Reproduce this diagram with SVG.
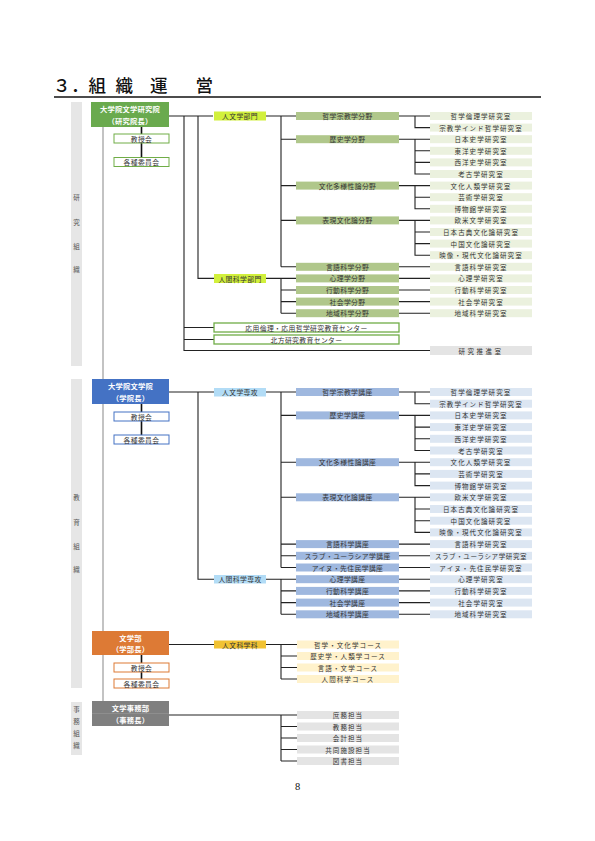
<svg xmlns="http://www.w3.org/2000/svg" width="595" height="841" viewBox="0 0 595 841">
<style>
.ln{stroke:#222;stroke-width:1.1;fill:none}
.lk{stroke:#111;stroke-width:1.6;fill:none}
.sp{stroke:#b4b4b4;stroke-width:1.6;fill:none}
.t{font-family:"Noto Sans CJK JP","Noto Sans",sans-serif;font-size:6.5px;fill:#333;text-anchor:middle;dominant-baseline:central;letter-spacing:1.1px}
.m{font-size:6.8px;letter-spacing:0.4px}
.w{font-family:"Noto Sans CJK JP","Noto Sans",sans-serif;font-size:7.3px;font-weight:bold;fill:#fff;text-anchor:middle;dominant-baseline:central;letter-spacing:0.2px}
.side{font-family:"Noto Sans CJK JP",sans-serif;font-size:6.5px;fill:#555;text-anchor:middle;dominant-baseline:central}
.bar{fill:#e6e6e6}
.rg{fill:#ebf1de}.fg{fill:#b0c78b}
.rb{fill:#dce6f2}.fb{fill:#9fb8df}
.cy{fill:#fff2cc}.ga{fill:#e4e4e4}
.bg{fill:#fff;stroke:#70ad47;stroke-width:1}
.bb{fill:#fff;stroke:#4472c4;stroke-width:1}
.bo{fill:#fff;stroke:#dd7a35;stroke-width:1}
.cg{fill:#fff;stroke:#70ad47;stroke-width:1.3}
.title{font-family:"Noto Sans CJK JP",sans-serif;font-size:17.5px;font-weight:500;fill:#111}
</style>

<!-- title -->
<g id="title">
<text class="title" x="53" y="92">３</text>
<text class="title" x="71" y="92">．</text>
<text class="title" x="88.5" y="92">組</text>
<text class="title" x="115.5" y="92">織</text>
<text class="title" x="150" y="92">運</text>
<text class="title" x="195.5" y="92">営</text>
<line x1="54" y1="97" x2="541" y2="97" stroke="#111" stroke-width="1.6"/>
</g>

<!-- side bars -->
<g id="side-research">
<rect class="bar" x="71" y="102" width="11" height="264"/>
<text class="side" x="76.5" y="197">研</text>
<text class="side" x="76.5" y="222">究</text>
<text class="side" x="76.5" y="246">組</text>
<text class="side" x="76.5" y="269">織</text>
</g>
<g id="side-education">
<rect class="bar" x="71" y="379" width="11" height="309"/>
<text class="side" x="76.5" y="497">教</text>
<text class="side" x="76.5" y="522">育</text>
<text class="side" x="76.5" y="546">組</text>
<text class="side" x="76.5" y="569">織</text>
</g>
<g id="side-admin">
<rect class="bar" x="71" y="702" width="11" height="53"/>
<text class="side" x="76.5" y="709">事</text>
<text class="side" x="76.5" y="721">務</text>
<text class="side" x="76.5" y="733">組</text>
<text class="side" x="76.5" y="745">織</text>
</g>

<!-- connectors -->
<g id="connectors">
<path class="sp" d="M103,127 V701"/>
<path class="lk" d="M141.5,127 V157 M141.5,404 V435 M141.5,655 V679"/>
<!-- research -->
<path class="ln" d="M169,116 H213 M266,116 H296 M281,116 V266.8 M281,139.2 H296 M281,185.6 H296 M281,220.4 H296 M281,266.8 H296
M198,116 V278.4 H214 M266,278.4 H296 M281,278.4 V313.2 M281,290 H296 M281,301.6 H296 M281,313.2 H296
M399,116 H430 M415,116 V127.6 H430
M399,139.2 H430 M415,139.2 V174 H430 M415,150.8 H430 M415,162.4 H430
M399,185.6 H430 M415,185.6 V208.8 H430 M415,197.2 H430
M399,220.4 H430 M415,220.4 V255.2 H430 M415,232 H430 M415,243.6 H430
M399,266.8 H430 M399,278.4 H430 M399,290 H430 M399,301.6 H430 M399,313.2 H430
M184,116 V350.5 H430 M184,327.5 H214 M184,339.5 H214"/>
<!-- education -->
<path class="ln" d="M169,392 H214 M266,392 H296 M281,392 V567.5 M281,415.4 H296 M281,462.2 H296 M281,497.3 H296 M281,544.1 H296 M281,555.8 H296 M281,567.5 H296
M198,392 V579.2 H214 M266,579.2 H296 M281,579.2 V614.3 M281,590.9 H296 M281,602.6 H296 M281,614.3 H296
M399,392 H430 M415,392 V403.7 H430
M399,415.4 H430 M415,415.4 V450.5 H430 M415,427.1 H430 M415,438.8 H430
M399,462.2 H430 M415,462.2 V485.6 H430 M415,473.9 H430
M399,497.3 H430 M415,497.3 V532.4 H430 M415,509 H430 M415,520.7 H430
M399,544.1 H430 M399,555.8 H430 M399,567.5 H430 M399,579.2 H430 M399,590.9 H430 M399,602.6 H430 M399,614.3 H430"/>
<!-- undergraduate -->
<path class="ln" d="M169,644.5 H214 M266,644.5 H297 M281,644.5 V679 M281,656 H297 M281,667.5 H297 M281,679 H297"/>
<!-- admin -->
<path class="ln" d="M169,715 H297 M281,715 V761 M281,726.5 H297 M281,738 H297 M281,749.5 H297 M281,761 H297"/>
</g>

<!-- ===== research organisation ===== -->
<g id="n-research-head"><rect x="91" y="102" width="78" height="25" fill="#6aaa4e"/><text class="w" x="130" y="108.5">大学院文学研究院</text><text class="w" x="130" y="120.5">（研究院長）</text></g>
<g id="n-r-kyoju"><rect class="bg" x="114" y="134" width="55" height="9"/><text class="t m" x="141.5" y="138.5">教授会</text></g>
<g id="n-r-iinkai"><rect class="bg" x="114" y="157.5" width="55" height="9"/><text class="t m" x="141.5" y="162">各種委員会</text></g>

<g id="n-r-jinbun"><rect x="214" y="111.5" width="52" height="9" fill="#d2f03c"/><text class="t m" x="240" y="116">人文学部門</text></g>
<g id="n-r-ningen"><rect x="214" y="274" width="52" height="9" fill="#d2f03c"/><text class="t m" x="240" y="278.5">人間科学部門</text></g>

<g id="n-r-f1"><rect class="fg" x="296" y="112" width="103" height="8"/><text class="t m" x="347.5" y="116">哲学宗教学分野</text></g>
<g id="n-r-f2"><rect class="fg" x="296" y="135.2" width="103" height="8"/><text class="t m" x="347.5" y="139.2">歴史学分野</text></g>
<g id="n-r-f3"><rect class="fg" x="296" y="181.6" width="103" height="8"/><text class="t m" x="347.5" y="185.6">文化多様性論分野</text></g>
<g id="n-r-f4"><rect class="fg" x="296" y="216.4" width="103" height="8"/><text class="t m" x="347.5" y="220.4">表現文化論分野</text></g>
<g id="n-r-f5"><rect class="fg" x="296" y="262.8" width="103" height="8"/><text class="t m" x="347.5" y="266.8">言語科学分野</text></g>
<g id="n-r-f6"><rect class="fg" x="296" y="274.4" width="103" height="8"/><text class="t m" x="347.5" y="278.4">心理学分野</text></g>
<g id="n-r-f7"><rect class="fg" x="296" y="286" width="103" height="8"/><text class="t m" x="347.5" y="290">行動科学分野</text></g>
<g id="n-r-f8"><rect class="fg" x="296" y="297.6" width="103" height="8"/><text class="t m" x="347.5" y="301.6">社会学分野</text></g>
<g id="n-r-f9"><rect class="fg" x="296" y="309.2" width="103" height="8"/><text class="t m" x="347.5" y="313.2">地域科学分野</text></g>

<g id="n-r-r0"><rect class="rg" x="430" y="112" width="102" height="8"/><text class="t" x="481" y="116">哲学倫理学研究室</text></g>
<g id="n-r-r1"><rect class="rg" x="430" y="123.6" width="102" height="8"/><text class="t" x="481" y="127.6">宗教学インド哲学研究室</text></g>
<g id="n-r-r2"><rect class="rg" x="430" y="135.2" width="102" height="8"/><text class="t" x="481" y="139.2">日本史学研究室</text></g>
<g id="n-r-r3"><rect class="rg" x="430" y="146.8" width="102" height="8"/><text class="t" x="481" y="150.8">東洋史学研究室</text></g>
<g id="n-r-r4"><rect class="rg" x="430" y="158.4" width="102" height="8"/><text class="t" x="481" y="162.4">西洋史学研究室</text></g>
<g id="n-r-r5"><rect class="rg" x="430" y="170" width="102" height="8"/><text class="t" x="481" y="174">考古学研究室</text></g>
<g id="n-r-r6"><rect class="rg" x="430" y="181.6" width="102" height="8"/><text class="t" x="481" y="185.6">文化人類学研究室</text></g>
<g id="n-r-r7"><rect class="rg" x="430" y="193.2" width="102" height="8"/><text class="t" x="481" y="197.2">芸術学研究室</text></g>
<g id="n-r-r8"><rect class="rg" x="430" y="204.8" width="102" height="8"/><text class="t" x="481" y="208.8">博物館学研究室</text></g>
<g id="n-r-r9"><rect class="rg" x="430" y="216.4" width="102" height="8"/><text class="t" x="481" y="220.4">欧米文学研究室</text></g>
<g id="n-r-r10"><rect class="rg" x="430" y="228" width="102" height="8"/><text class="t" x="481" y="232">日本古典文化論研究室</text></g>
<g id="n-r-r11"><rect class="rg" x="430" y="239.6" width="102" height="8"/><text class="t" x="481" y="243.6">中国文化論研究室</text></g>
<g id="n-r-r12"><rect class="rg" x="430" y="251.2" width="102" height="8"/><text class="t" x="481" y="255.2">映像・現代文化論研究室</text></g>
<g id="n-r-r13"><rect class="rg" x="430" y="262.8" width="102" height="8"/><text class="t" x="481" y="266.8">言語科学研究室</text></g>
<g id="n-r-r14"><rect class="rg" x="430" y="274.4" width="102" height="8"/><text class="t" x="481" y="278.4">心理学研究室</text></g>
<g id="n-r-r15"><rect class="rg" x="430" y="286" width="102" height="8"/><text class="t" x="481" y="290">行動科学研究室</text></g>
<g id="n-r-r16"><rect class="rg" x="430" y="297.6" width="102" height="8"/><text class="t" x="481" y="301.6">社会学研究室</text></g>
<g id="n-r-r17"><rect class="rg" x="430" y="309.2" width="102" height="8"/><text class="t" x="481" y="313.2">地域科学研究室</text></g>

<g id="n-r-center1"><rect class="cg" x="214" y="323" width="185" height="9"/><text class="t m" x="306.5" y="327.5">応用倫理・応用哲学研究教育センター</text></g>
<g id="n-r-center2"><rect class="cg" x="214" y="335" width="185" height="9"/><text class="t m" x="306.5" y="339.5">北方研究教育センター</text></g>
<g id="n-r-suishin"><rect class="ga" x="430" y="346" width="102" height="9"/><text class="t" x="481" y="350.5" style="letter-spacing:2.5px">研究推進室</text></g>

<!-- ===== education organisation ===== -->
<g id="n-education-head"><rect x="92" y="379" width="77" height="25" fill="#4472c4"/><text class="w" x="130.5" y="385.5">大学院文学院</text><text class="w" x="130.5" y="397.5">（学院長）</text></g>
<g id="n-e-kyoju"><rect class="bb" x="114" y="412" width="55" height="9"/><text class="t m" x="141.5" y="416.5">教授会</text></g>
<g id="n-e-iinkai"><rect class="bb" x="114" y="435" width="55" height="9"/><text class="t m" x="141.5" y="439.5">各種委員会</text></g>

<g id="n-e-jinbun"><rect x="214" y="388" width="52" height="8.5" fill="#b2dcf6"/><text class="t m" x="240" y="392.2">人文学専攻</text></g>
<g id="n-e-ningen"><rect x="214" y="575" width="52" height="8.5" fill="#b2dcf6"/><text class="t m" x="240" y="579.2">人間科学専攻</text></g>

<g id="n-e-k1"><rect class="fb" x="296" y="388" width="103" height="8"/><text class="t m" x="347.5" y="392">哲学宗教学講座</text></g>
<g id="n-e-k2"><rect class="fb" x="296" y="411.4" width="103" height="8"/><text class="t m" x="347.5" y="415.4">歴史学講座</text></g>
<g id="n-e-k3"><rect class="fb" x="296" y="458.2" width="103" height="8"/><text class="t m" x="347.5" y="462.2">文化多様性論講座</text></g>
<g id="n-e-k4"><rect class="fb" x="296" y="493.3" width="103" height="8"/><text class="t m" x="347.5" y="497.3">表現文化論講座</text></g>
<g id="n-e-k5"><rect class="fb" x="296" y="540.1" width="103" height="8"/><text class="t m" x="347.5" y="544.1">言語科学講座</text></g>
<g id="n-e-k6"><rect class="fb" x="296" y="551.8" width="103" height="8"/><text class="t m" x="347.5" y="555.8">スラブ・ユーラシア学講座</text></g>
<g id="n-e-k7"><rect class="fb" x="296" y="563.5" width="103" height="8"/><text class="t m" x="347.5" y="567.5">アイヌ・先住民学講座</text></g>
<g id="n-e-k8"><rect class="fb" x="296" y="575.2" width="103" height="8"/><text class="t m" x="347.5" y="579.2">心理学講座</text></g>
<g id="n-e-k9"><rect class="fb" x="296" y="586.9" width="103" height="8"/><text class="t m" x="347.5" y="590.9">行動科学講座</text></g>
<g id="n-e-k10"><rect class="fb" x="296" y="598.6" width="103" height="8"/><text class="t m" x="347.5" y="602.6">社会学講座</text></g>
<g id="n-e-k11"><rect class="fb" x="296" y="610.3" width="103" height="8"/><text class="t m" x="347.5" y="614.3">地域科学講座</text></g>

<g id="n-e-r0"><rect class="rb" x="430" y="388" width="102" height="8"/><text class="t" x="481" y="392">哲学倫理学研究室</text></g>
<g id="n-e-r1"><rect class="rb" x="430" y="399.7" width="102" height="8"/><text class="t" x="481" y="403.7">宗教学インド哲学研究室</text></g>
<g id="n-e-r2"><rect class="rb" x="430" y="411.4" width="102" height="8"/><text class="t" x="481" y="415.4">日本史学研究室</text></g>
<g id="n-e-r3"><rect class="rb" x="430" y="423.1" width="102" height="8"/><text class="t" x="481" y="427.1">東洋史学研究室</text></g>
<g id="n-e-r4"><rect class="rb" x="430" y="434.8" width="102" height="8"/><text class="t" x="481" y="438.8">西洋史学研究室</text></g>
<g id="n-e-r5"><rect class="rb" x="430" y="446.5" width="102" height="8"/><text class="t" x="481" y="450.5">考古学研究室</text></g>
<g id="n-e-r6"><rect class="rb" x="430" y="458.2" width="102" height="8"/><text class="t" x="481" y="462.2">文化人類学研究室</text></g>
<g id="n-e-r7"><rect class="rb" x="430" y="469.9" width="102" height="8"/><text class="t" x="481" y="473.9">芸術学研究室</text></g>
<g id="n-e-r8"><rect class="rb" x="430" y="481.6" width="102" height="8"/><text class="t" x="481" y="485.6">博物館学研究室</text></g>
<g id="n-e-r9"><rect class="rb" x="430" y="493.3" width="102" height="8"/><text class="t" x="481" y="497.3">欧米文学研究室</text></g>
<g id="n-e-r10"><rect class="rb" x="430" y="505" width="102" height="8"/><text class="t" x="481" y="509">日本古典文化論研究室</text></g>
<g id="n-e-r11"><rect class="rb" x="430" y="516.7" width="102" height="8"/><text class="t" x="481" y="520.7">中国文化論研究室</text></g>
<g id="n-e-r12"><rect class="rb" x="430" y="528.4" width="102" height="8"/><text class="t" x="481" y="532.4">映像・現代文化論研究室</text></g>
<g id="n-e-r13"><rect class="rb" x="430" y="540.1" width="102" height="8"/><text class="t" x="481" y="544.1">言語科学研究室</text></g>
<g id="n-e-r14"><rect class="rb" x="430" y="551.8" width="102" height="8"/><text class="t" x="481" y="555.8" style="letter-spacing:0.6px">スラブ・ユーラシア学研究室</text></g>
<g id="n-e-r15"><rect class="rb" x="430" y="563.5" width="102" height="8"/><text class="t" x="481" y="567.5">アイヌ・先住民学研究室</text></g>
<g id="n-e-r16"><rect class="rb" x="430" y="575.2" width="102" height="8"/><text class="t" x="481" y="579.2">心理学研究室</text></g>
<g id="n-e-r17"><rect class="rb" x="430" y="586.9" width="102" height="8"/><text class="t" x="481" y="590.9">行動科学研究室</text></g>
<g id="n-e-r18"><rect class="rb" x="430" y="598.6" width="102" height="8"/><text class="t" x="481" y="602.6">社会学研究室</text></g>
<g id="n-e-r19"><rect class="rb" x="430" y="610.3" width="102" height="8"/><text class="t" x="481" y="614.3">地域科学研究室</text></g>

<!-- ===== undergraduate ===== -->
<g id="n-faculty-head"><rect x="92" y="631" width="77" height="24" fill="#dd7a35"/><text class="w" x="130.5" y="637.5">文学部</text><text class="w" x="130.5" y="649">（学部長）</text></g>
<g id="n-u-kyoju"><rect class="bo" x="114" y="663" width="55" height="9"/><text class="t m" x="141.5" y="667.5">教授会</text></g>
<g id="n-u-iinkai"><rect class="bo" x="114" y="679" width="55" height="9"/><text class="t m" x="141.5" y="683.5">各種委員会</text></g>
<g id="n-u-jinbun"><rect x="214" y="640.5" width="52" height="8" fill="#f1c232"/><text class="t m" x="240" y="644.5">人文科学科</text></g>
<g id="n-u-c1"><rect class="cy" x="297" y="640.5" width="102" height="8"/><text class="t" x="348" y="644.5">哲学・文化学コース</text></g>
<g id="n-u-c2"><rect class="cy" x="297" y="652" width="102" height="8"/><text class="t" x="348" y="656">歴史学・人類学コース</text></g>
<g id="n-u-c3"><rect class="cy" x="297" y="663.5" width="102" height="8"/><text class="t" x="348" y="667.5">言語・文学コース</text></g>
<g id="n-u-c4"><rect class="cy" x="297" y="675" width="102" height="8"/><text class="t" x="348" y="679">人間科学コース</text></g>

<!-- ===== administration ===== -->
<g id="n-admin-head"><rect x="92" y="701" width="77" height="25" fill="#7f7f7f"/><line x1="92" y1="713.5" x2="169" y2="713.5" stroke="#999" stroke-width="0.6"/><text class="w" x="130.5" y="707.5">文学事務部</text><text class="w" x="130.5" y="719.5">（事務長）</text></g>
<g id="n-a-1"><rect class="ga" x="297" y="711" width="102" height="8"/><text class="t" x="348" y="715">庶務担当</text></g>
<g id="n-a-2"><rect class="ga" x="297" y="722.5" width="102" height="8"/><text class="t" x="348" y="726.5">教務担当</text></g>
<g id="n-a-3"><rect class="ga" x="297" y="734" width="102" height="8"/><text class="t" x="348" y="738">会計担当</text></g>
<g id="n-a-4"><rect class="ga" x="297" y="745.5" width="102" height="8"/><text class="t" x="348" y="749.5">共同施設担当</text></g>
<g id="n-a-5"><rect class="ga" x="297" y="757" width="102" height="8"/><text class="t" x="348" y="761">図書担当</text></g>

<text x="297.5" y="790" font-family="Liberation Serif, serif" font-size="10.5" fill="#111" text-anchor="middle">8</text>
</svg>
